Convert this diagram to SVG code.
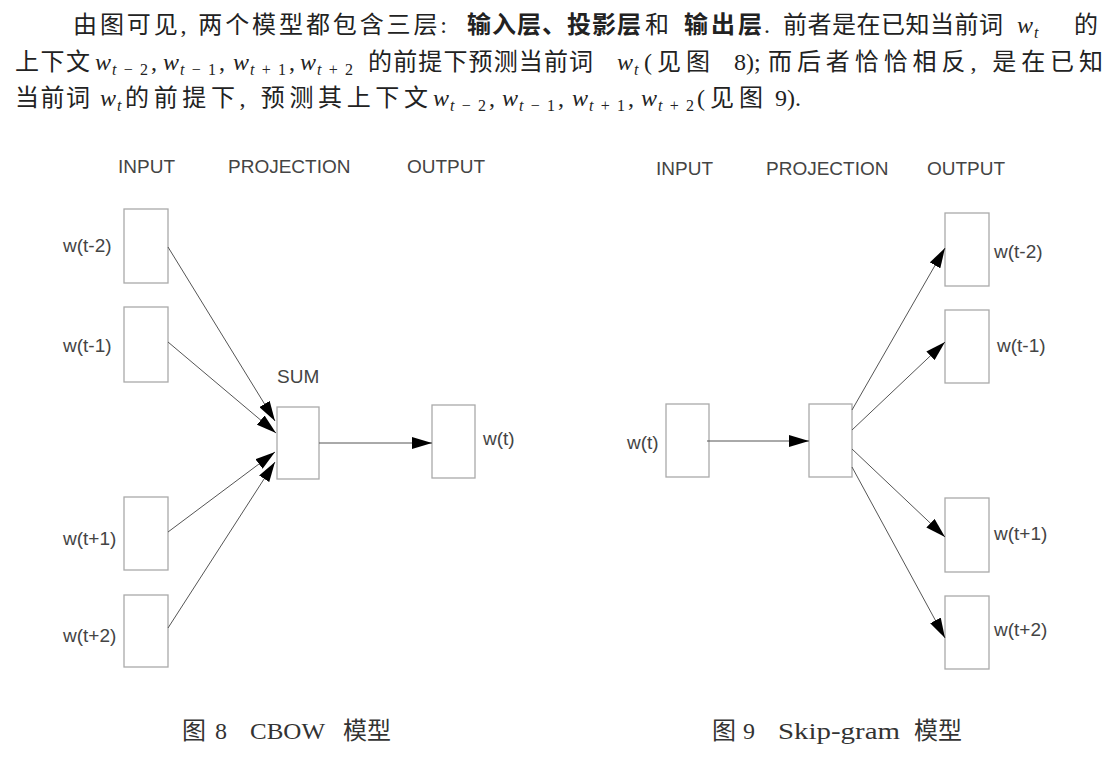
<svg xmlns="http://www.w3.org/2000/svg" width="1119" height="758" viewBox="0 0 1119 758">
<style>
.t { font-family: "Liberation Serif", "Noto Sans CJK SC", serif; font-size: 24px; fill: #222; }
.b { font-weight: bold; }
.mi { font-style: italic; }
.sub { font-size: 16px; }
.lbl { font-family: "Liberation Sans", Arial, sans-serif; font-size: 19px; fill: #444; }
.box { fill: #fff; stroke: #aaa; stroke-width: 1.3; }
.edge { stroke: #555; stroke-width: 1; fill: none; marker-end: url(#ah); }
.cap { font-family: "Liberation Serif", "Noto Sans CJK SC", serif; font-size: 24px; fill: #333; }
</style>
<defs>
<marker id="ah" markerUnits="userSpaceOnUse" markerWidth="20" markerHeight="12" refX="20" refY="6" orient="auto">
<path d="M0,0 L20,6 L0,12 z" fill="#000"/>
</marker>
</defs>
<rect width="1119" height="758" fill="#fff"/>

<g id="paragraph">
<!-- line 1 -->
<text class="t" x="73" y="33" textLength="374" lengthAdjust="spacing">由图可见, 两个模型都包含三层:</text>
<text class="t b" x="467" y="33" textLength="174" lengthAdjust="spacing">输入层、投影层</text>
<text class="t" x="645" y="33">和</text>
<text class="t b" x="684" y="33" textLength="78" lengthAdjust="spacing">输出层</text>
<text class="t" x="764" y="33">.</text>
<text class="t" x="783" y="33" textLength="220" lengthAdjust="spacing">前者是在已知当前词</text>
<text class="t" x="1017" y="33"><tspan class="mi">w</tspan><tspan class="sub mi" x="1034" dy="5">t</tspan></text>
<text class="t" x="1074" y="33">的</text>

<!-- line 2 -->
<text class="t" x="15" y="70" textLength="75" lengthAdjust="spacing">上下文</text>
<text class="t" x="95" y="70"><tspan class="mi">w</tspan><tspan class="sub" x="112" dy="5" textLength="36" lengthAdjust="spacing"><tspan class="mi">t</tspan>−2</tspan></text>
<text class="t" x="151" y="70">,</text>
<text class="t" x="163" y="70"><tspan class="mi">w</tspan><tspan class="sub" x="180" dy="5" textLength="36" lengthAdjust="spacing"><tspan class="mi">t</tspan>−1</tspan></text>
<text class="t" x="219" y="70">,</text>
<text class="t" x="233" y="70"><tspan class="mi">w</tspan><tspan class="sub" x="250" dy="5" textLength="36" lengthAdjust="spacing"><tspan class="mi">t</tspan>+1</tspan></text>
<text class="t" x="289" y="70">,</text>
<text class="t" x="300" y="70"><tspan class="mi">w</tspan><tspan class="sub" x="317" dy="5" textLength="36" lengthAdjust="spacing"><tspan class="mi">t</tspan>+2</tspan></text>
<text class="t" x="368" y="70" textLength="225" lengthAdjust="spacing">的前提下预测当前词</text>
<text class="t" x="617" y="70"><tspan class="mi">w</tspan><tspan class="sub mi" x="634" dy="5">t</tspan></text>
<text class="t" x="644" y="70" textLength="66" lengthAdjust="spacing">(见图</text>
<text class="t" x="734" y="70">8);</text>
<text class="t" x="768" y="70" textLength="335" lengthAdjust="spacing">而后者恰恰相反, 是在已知</text>

<!-- line 3 -->
<text class="t" x="15" y="106" textLength="75" lengthAdjust="spacing">当前词</text>
<text class="t" x="100" y="106"><tspan class="mi">w</tspan><tspan class="sub mi" x="117" dy="5">t</tspan></text>
<text class="t" x="125" y="106" textLength="303" lengthAdjust="spacing">的前提下, 预测其上下文</text>
<text class="t" x="433" y="106"><tspan class="mi">w</tspan><tspan class="sub" x="450" dy="5" textLength="36" lengthAdjust="spacing"><tspan class="mi">t</tspan>−2</tspan></text>
<text class="t" x="489" y="106">,</text>
<text class="t" x="502" y="106"><tspan class="mi">w</tspan><tspan class="sub" x="519" dy="5" textLength="36" lengthAdjust="spacing"><tspan class="mi">t</tspan>−1</tspan></text>
<text class="t" x="558" y="106">,</text>
<text class="t" x="572" y="106"><tspan class="mi">w</tspan><tspan class="sub" x="589" dy="5" textLength="36" lengthAdjust="spacing"><tspan class="mi">t</tspan>+1</tspan></text>
<text class="t" x="628" y="106">,</text>
<text class="t" x="641" y="106"><tspan class="mi">w</tspan><tspan class="sub" x="658" dy="5" textLength="36" lengthAdjust="spacing"><tspan class="mi">t</tspan>+2</tspan></text>
<text class="t" x="697" y="106" textLength="66" lengthAdjust="spacing">(见图</text>
<text class="t" x="775" y="106">9).</text>
</g>

<!-- CBOW diagram -->
<g id="cbow-headers">
<text class="lbl" x="118" y="173">INPUT</text>
<text class="lbl" x="228" y="173">PROJECTION</text>
<text class="lbl" x="407" y="173">OUTPUT</text>
</g>
<g id="cbow-in-tm2"><rect class="box" x="124" y="209" width="44" height="74"/><text class="lbl" x="63" y="252">w(t-2)</text></g>
<g id="cbow-in-tm1"><rect class="box" x="124" y="307" width="44" height="75"/><text class="lbl" x="63" y="352">w(t-1)</text></g>
<g id="cbow-in-tp1"><rect class="box" x="124" y="497" width="44" height="73"/><text class="lbl" x="63" y="545">w(t+1)</text></g>
<g id="cbow-in-tp2"><rect class="box" x="124" y="595" width="44" height="72"/><text class="lbl" x="63" y="642">w(t+2)</text></g>
<g id="cbow-sum"><text class="lbl" x="277" y="383">SUM</text><rect class="box" x="277" y="407" width="42" height="72"/></g>
<g id="cbow-out"><rect class="box" x="432" y="405" width="43" height="73"/><text class="lbl" x="483" y="445">w(t)</text></g>

<!-- Skip-gram diagram -->
<g id="sg-headers">
<text class="lbl" x="656" y="175">INPUT</text>
<text class="lbl" x="766" y="175">PROJECTION</text>
<text class="lbl" x="927" y="175">OUTPUT</text>
</g>
<g id="sg-in"><rect class="box" x="666" y="404" width="43" height="73"/><text class="lbl" x="627" y="449">w(t)</text></g>
<g id="sg-proj"><rect class="box" x="809" y="404" width="43" height="73"/></g>
<g id="sg-out-tm2"><rect class="box" x="945" y="213" width="44" height="73"/><text class="lbl" x="994" y="258">w(t-2)</text></g>
<g id="sg-out-tm1"><rect class="box" x="945" y="310" width="44" height="73"/><text class="lbl" x="997" y="352">w(t-1)</text></g>
<g id="sg-out-tp1"><rect class="box" x="945" y="498" width="44" height="74"/><text class="lbl" x="994" y="540">w(t+1)</text></g>
<g id="sg-out-tp2"><rect class="box" x="945" y="596" width="44" height="73"/><text class="lbl" x="994" y="636">w(t+2)</text></g>

<g id="connectors">
<line class="edge" x1="168" y1="247" x2="275" y2="421"/>
<line class="edge" x1="168" y1="342" x2="276" y2="433"/>
<line class="edge" x1="168" y1="532" x2="275" y2="452"/>
<line class="edge" x1="168" y1="628" x2="275" y2="462"/>
<line class="edge" x1="319" y1="443" x2="432" y2="443"/>
<line class="edge" x1="707" y1="441" x2="809" y2="441"/>
<line class="edge" x1="852" y1="410" x2="945" y2="248"/>
<line class="edge" x1="852" y1="430" x2="945" y2="342"/>
<line class="edge" x1="852" y1="449" x2="945" y2="537"/>
<line class="edge" x1="852" y1="467" x2="945" y2="638"/>
</g>

<g id="captions">
<text class="cap" x="182" y="739">图</text>
<text class="cap" x="215" y="739">8</text>
<text class="cap" x="250" y="739" textLength="75" lengthAdjust="spacingAndGlyphs">CBOW</text>
<text class="cap" x="343" y="739">模型</text>
<text class="cap" x="712" y="739">图</text>
<text class="cap" x="743" y="739">9</text>
<text class="cap" x="778" y="739" textLength="122" lengthAdjust="spacingAndGlyphs">Skip-gram</text>
<text class="cap" x="914" y="739">模型</text>
</g>
</svg>
